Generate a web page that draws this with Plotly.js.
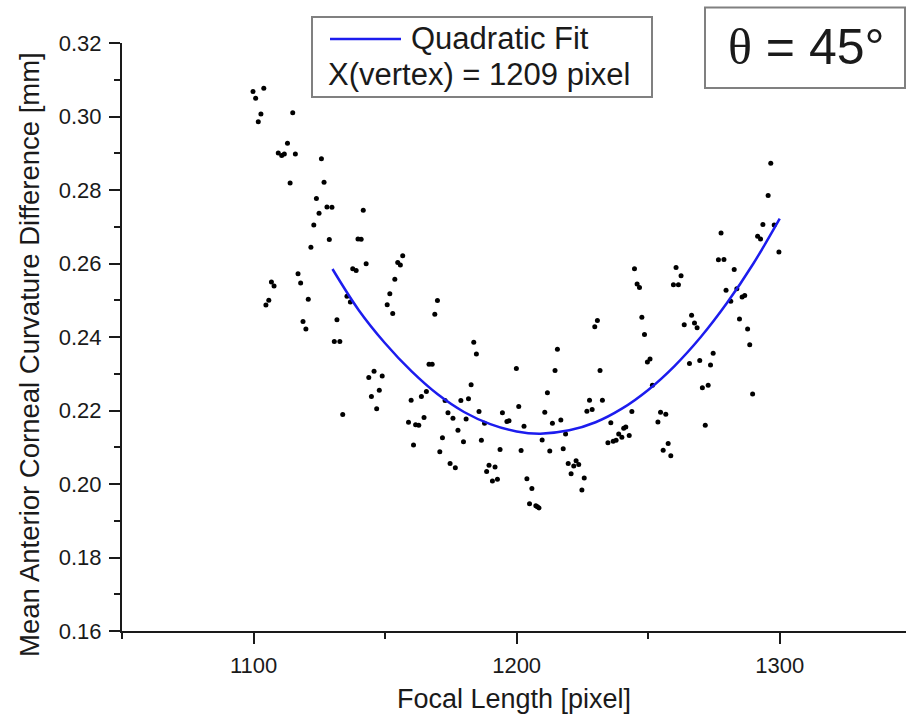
<!DOCTYPE html>
<html>
<head>
<meta charset="utf-8">
<script src="https://cdn.plot.ly/plotly-3.0.1.min.js"></script>
<style>
  html, body { margin: 0; padding: 0; background: #ffffff; }
  #chart { width: 906px; height: 721px; }
</style>
</head>
<body>
<div id="chart"></div>
<script>
// ---- Data ----
const focalLength = [
  1099.8,1103.9,1100.8,1102.8,1101.8,1114.9,1112.9,1109.4,1110.7,1111.7,
  1115.9,1125.8,1113.9,1126.8,1123.9,1127.9,1129.8,1124.9,1141.7,1122.9,
  1128.8,1139.7,1140.9,1121.8,1156.7,1154.8,1155.8,1142.8,1137.7,1139.0,
  1116.9,1117.9,1106.8,1107.8,1153.7,1151.8,1105.8,1104.7,1120.8,1135.5,
  1136.8,1150.8,1152.9,1169.9,1168.9,1131.7,1118.8,1119.9,1130.7,1132.8,
  1183.7,1184.7,1166.7,1167.9,1145.8,1143.8,1148.9,1182.7,1147.8,1144.8,
  1165.7,1163.8,1159.9,1172.8,1178.8,1181.7,1146.8,1133.9,1185.7,1173.9,
  1175.8,1180.8,1194.6,1196.3,1197.1,1187.8,1164.8,1158.9,1161.6,1162.8,
  1177.7,1171.8,1179.8,1186.6,1160.8,1170.8,1193.7,1174.7,1176.7,1189.5,
  1191.8,1188.6,1190.8,1192.7,
  1296.6,1295.6,1293.6,1297.9,1291.6,1292.7,1299.7,1277.7,1276.7,1278.8,
  1282.7,1244.8,1260.6,1262.5,1259.6,1261.5,1245.8,1246.7,1279.6,1283.7,
  1281.4,1285.7,1286.7,1247.6,1266.5,1263.7,1267.6,1268.6,1284.7,1287.8,
  1230.7,1229.7,1248.6,1288.6,1215.5,1274.7,1250.7,1249.7,1269.6,1265.7,
  1273.7,1199.9,1214.6,1231.7,1251.6,1272.8,1270.6,1211.7,1289.7,1200.8,
  1227.7,1232.6,1210.7,1226.7,1228.7,1243.8,1254.7,1256.7,1216.8,1213.6,
  1202.8,1235.8,1253.7,1271.7,1218.6,1209.7,1241.5,1240.7,1238.8,1240.0,
  1242.8,1234.7,1236.7,1237.8,1201.7,1212.6,1217.7,1257.6,1255.7,1258.6,
  1219.6,1222.6,1221.7,1223.6,1220.7,1225.7,1203.9,1205.8,1224.8,1204.9,
  1207.3,1207.9,1208.5
];
const curvatureDiff = [
  0.3068,0.3077,0.3050,0.3007,0.2986,0.3010,0.2927,0.2901,0.2894,0.2898,
  0.2898,0.2885,0.2819,0.2821,0.2777,0.2754,0.2753,0.2737,0.2745,0.2705,
  0.2665,0.2667,0.2666,0.2644,0.2621,0.2603,0.2596,0.2599,0.2586,0.2581,
  0.2572,0.2547,0.2550,0.2539,0.2557,0.2518,0.2500,0.2487,0.2503,0.2511,
  0.2495,0.2488,0.2464,0.2499,0.2462,0.2447,0.2442,0.2422,0.2388,0.2388,
  0.2386,0.2354,0.2326,0.2326,0.2307,0.2290,0.2294,0.2270,0.2255,0.2238,
  0.2252,0.2238,0.2228,0.2227,0.2227,0.2232,0.2205,0.2189,0.2197,0.2194,
  0.2179,0.2177,0.2194,0.2170,0.2172,0.2165,0.2181,0.2168,0.2161,0.2160,
  0.2146,0.2126,0.2115,0.2119,0.2106,0.2088,0.2094,0.2056,0.2044,0.2051,
  0.2046,0.2034,0.2008,0.2013,
  0.2873,0.2785,0.2706,0.2705,0.2674,0.2667,0.2631,0.2683,0.2610,0.2611,
  0.2584,0.2586,0.2589,0.2567,0.2542,0.2542,0.2544,0.2535,0.2527,0.2531,
  0.2497,0.2509,0.2513,0.2454,0.2459,0.2433,0.2438,0.2425,0.2449,0.2422,
  0.2445,0.2428,0.2407,0.2379,0.2367,0.2356,0.2340,0.2332,0.2336,0.2328,
  0.2324,0.2314,0.2309,0.2309,0.2269,0.2269,0.2262,0.2248,0.2245,0.2211,
  0.2228,0.2228,0.2195,0.2198,0.2203,0.2197,0.2195,0.2190,0.2174,0.2165,
  0.2157,0.2167,0.2169,0.2160,0.2136,0.2120,0.2155,0.2152,0.2136,0.2127,
  0.2132,0.2112,0.2116,0.2119,0.2091,0.2090,0.2096,0.2110,0.2092,0.2077,
  0.2056,0.2063,0.2049,0.2053,0.2028,0.2016,0.2014,0.1988,0.1984,0.1946,
  0.1941,0.1938,0.1935
];
// Quadratic fit curve
const fitX = [1130,1140,1150,1160,1170,1180,1190,1200,1209,1220,1230,1240,1250,1260,1270,1280,1290,1300];
const fitY = [0.2585,0.2473,0.2383,0.2307,0.2244,0.2196,0.2163,0.2143,0.2137,0.2146,0.2168,0.2205,0.2256,0.2321,0.2400,0.2493,0.2600,0.2722];
const xTickVals = [1100, 1200, 1300];
const yTickVals = [0.16, 0.18, 0.20, 0.22, 0.24, 0.26, 0.28, 0.30, 0.32];
const legendFitLabel = 'Quadratic Fit';
const legendVertexLabel = 'X(vertex) = 1209 pixel';
const angleLabel = '<span style="font-family:Liberation Serif">θ</span> = 45°';

// ---- Layout helpers (pixel -> paper) ----
const W = 906, H = 721;
const M = {l: 122, r: 0, t: 43, b: 90};
const PW = W - M.l - M.r, PH = H - M.t - M.b;
const px = x => (x - M.l) / PW;
const py = y => (H - M.b - y) / PH;

const FONT = 'Liberation Sans, Arial, sans-serif';
const INK = '#1a1a1a';
const BLUE = 'rgb(28,28,238)';

const traces = [
  {
    x: focalLength, y: curvatureDiff, type: 'scatter', mode: 'markers',
    name: 'Data', showlegend: false,
    marker: {color: '#000000', size: 5}
  },
  {
    x: fitX, y: fitY, type: 'scatter', mode: 'lines',
    name: legendFitLabel, showlegend: false,
    line: {color: BLUE, width: 2.5, shape: 'spline', smoothing: 1}
  }
];

const layout = {
  width: W, height: H,
  margin: M,
  paper_bgcolor: '#ffffff', plot_bgcolor: '#ffffff',
  font: {family: FONT, color: INK},
  showlegend: false,
  xaxis: {
    range: [1050, 1348],
    tickvals: xTickVals,
    ticks: 'outside', ticklen: 11, tickwidth: 2, tickcolor: INK,
    minor: {dtick: 50, tick0: 1050, ticks: 'outside', ticklen: 6, tickwidth: 2, tickcolor: INK},
    showline: true, linewidth: 2, linecolor: INK,
    showgrid: false, zeroline: false,
    tickfont: {family: FONT, size: 22, color: INK},
    ticklabelstandoff: 3,
    title: {text: 'Focal Length [pixel]', font: {family: FONT, size: 27, color: INK}, standoff: 12}
  },
  yaxis: {
    range: [0.16, 0.32],
    tickvals: yTickVals,
    tickformat: '.2f',
    ticks: 'outside', ticklen: 11, tickwidth: 2, tickcolor: INK,
    minor: {dtick: 0.01, tick0: 0.16, ticks: 'outside', ticklen: 6, tickwidth: 2, tickcolor: INK},
    showline: true, linewidth: 2, linecolor: INK,
    showgrid: false, zeroline: false,
    tickfont: {family: FONT, size: 22, color: INK},
    ticklabelstandoff: 3
  },
  shapes: [
    {type: 'rect', xref: 'paper', yref: 'paper', x0: px(312), x1: px(652), y0: py(97), y1: py(17),
     line: {color: '#808080', width: 2}, fillcolor: '#ffffff', layer: 'above'},
    {type: 'line', xref: 'paper', yref: 'paper', x0: px(330), x1: px(401), y0: py(39), y1: py(39),
     line: {color: BLUE, width: 2.5}, layer: 'above'},
    {type: 'rect', xref: 'paper', yref: 'paper', x0: px(705), x1: px(905), y0: py(88), y1: py(7.5),
     line: {color: '#808080', width: 2}, fillcolor: '#ffffff', layer: 'above'}
  ],
  annotations: [
    {text: 'Mean Anterior Corneal Curvature Difference [mm]', textangle: -90,
     xref: 'paper', yref: 'paper', x: px(30), y: py(355), xanchor: 'center', yanchor: 'middle',
     showarrow: false, font: {family: FONT, size: 27.5, color: INK}},
    {text: legendFitLabel, xref: 'paper', yref: 'paper', x: px(409), y: py(39),
     xanchor: 'left', yanchor: 'middle', showarrow: false,
     font: {family: FONT, size: 31, color: INK}},
    {text: legendVertexLabel, xref: 'paper', yref: 'paper', x: px(326), y: py(75),
     xanchor: 'left', yanchor: 'middle', showarrow: false,
     font: {family: FONT, size: 31, color: INK}},
    {text: angleLabel, xref: 'paper', yref: 'paper', x: px(726), y: py(47),
     xanchor: 'left', yanchor: 'middle', showarrow: false,
     font: {family: FONT, size: 50, color: INK}}
  ]
};

Plotly.newPlot('chart', traces, layout, {staticPlot: true, displayModeBar: false});
</script>
</body>
</html>
